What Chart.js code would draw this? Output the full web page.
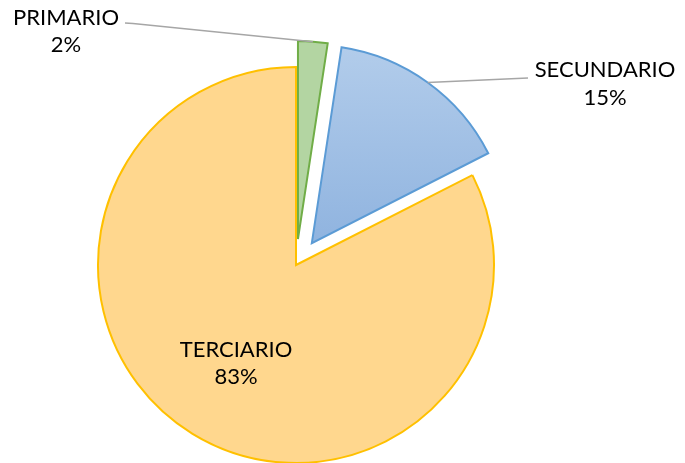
<!DOCTYPE html>
<html>
<head>
<meta charset="utf-8">
<script src="https://cdn.jsdelivr.net/npm/chart.js@4.4.1/dist/chart.umd.min.js"></script>
<style>
  html, body { margin: 0; padding: 0; background: #fff; }
  #wrap { width: 685px; height: 463px; }
</style>
</head>
<body>
<div id="wrap"><canvas id="sectores" width="685" height="463"></canvas></div>
<script>
// data
var sectores = ['PRIMARIO', 'SECUNDARIO', 'TERCIARIO'];
var valores = [2.4, 15.1, 82.5];
var porcentajes = ['2%', '15%', '83%'];

var rellenos = ['#b3d5a2', '#a5c2e8', '#ffd78e'];
var bordes = ['#70ad47', '#5b9bd5', '#ffc000'];
var separacion = [26, 27, 0]; // exploded slices, px

var fuente = '22px Lato, "Gill Sans", sans-serif';

// push exploded slices out along their bisector
var explodePlugin = {
  id: 'explode',
  afterDatasetUpdate: function (chart, args) {
    args.meta.data.forEach(function (arc, i) {
      var d = separacion[i] || 0;
      var mid = (arc.startAngle + arc.endAngle) / 2;
      arc.x += Math.cos(mid) * d;
      arc.y += Math.sin(mid) * d;
    });
  }
};

// Excel-style data labels with leader lines
var labelPlugin = {
  id: 'etiquetas',
  afterDatasetsDraw: function (chart) {
    var ctx = chart.ctx;
    var arcs = chart.getDatasetMeta(0).data;
    ctx.save();
    ctx.font = fuente;
    ctx.fillStyle = '#000';
    ctx.textAlign = 'center';
    ctx.textBaseline = 'alphabetic';

    function outerPoint(arc) {
      var mid = (arc.startAngle + arc.endAngle) / 2;
      return { x: arc.x + Math.cos(mid) * arc.outerRadius, y: arc.y + Math.sin(mid) * arc.outerRadius };
    }

    // leader lines
    ctx.strokeStyle = '#a6a6a6';
    ctx.lineWidth = 1.5;
    var p0 = outerPoint(arcs[0]);
    ctx.beginPath();
    ctx.moveTo(125, 23);
    ctx.lineTo(133, 23.5);
    ctx.lineTo(p0.x, p0.y);
    ctx.stroke();

    var p1 = outerPoint(arcs[1]);
    ctx.beginPath();
    ctx.moveTo(528, 78);
    ctx.lineTo(p1.x, p1.y);
    ctx.stroke();

    // outside labels
    ctx.fillText(sectores[0], 66, 25);
    ctx.fillText(porcentajes[0], 66, 52);
    ctx.fillText(sectores[1], 605, 77);
    ctx.fillText(porcentajes[1], 605, 105);

    // inside label for the big slice
    var a = arcs[2];
    var mid = (a.startAngle + a.endAngle) / 2;
    var r = a.outerRadius * 0.58;
    var cx = a.x + Math.cos(mid) * r;
    var cy = a.y + Math.sin(mid) * r;
    ctx.fillText(sectores[2], cx, cy - 5.5);
    ctx.fillText(porcentajes[2], cx, cy + 21.5);
    ctx.restore();
  }
};

var chart = new Chart(document.getElementById('sectores'), {
  type: 'pie',
  data: {
    labels: sectores,
    datasets: [{
      data: valores,
      backgroundColor: function (c) {
        var area = c.chart.chartArea;
        if (c.dataIndex !== 1 || !area) return rellenos[c.dataIndex];
        var g = c.chart.ctx.createLinearGradient(0, area.top - 25, 0, area.top + 180);
        g.addColorStop(0, '#b3cdeb');
        g.addColorStop(1, '#8fb3df');
        return g;
      },
      borderColor: bordes,
      borderWidth: 2,
      borderJoinStyle: 'miter'
    }]
  },
  plugins: [explodePlugin, labelPlugin],
  options: {
    responsive: false,
    animation: false,
    radius: 198,
    layout: {
      padding: { left: 98, right: 191, top: 67, bottom: 0 }
    },
    plugins: {
      legend: { display: false },
      tooltip: { enabled: false },
      title: { display: false }
    }
  }
});
</script>
</body>
</html>
